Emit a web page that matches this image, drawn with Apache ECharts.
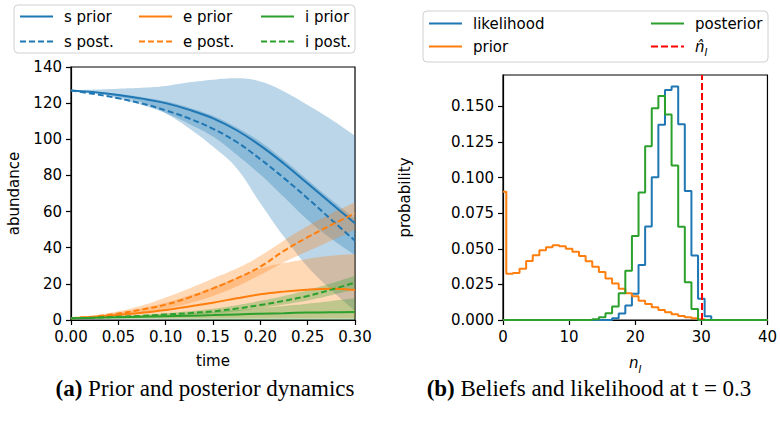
<!DOCTYPE html>
<html><head><meta charset="utf-8">
<script src="https://cdn.jsdelivr.net/npm/echarts@6/dist/echarts.min.js"></script>
<style>html,body{margin:0;padding:0;background:#fff}#c{width:780px;height:428px}</style>
</head><body><div id="c"></div>
<script>
// ---------- (a) dynamics ----------
const times = [0, 0.025, 0.05, 0.075, 0.1, 0.125, 0.15, 0.175, 0.2, 0.225, 0.25, 0.275, 0.3];
const timeTicks = [0, 0.05, 0.1, 0.15, 0.2, 0.25, 0.3];
const abundTicks = [0, 20, 40, 60, 80, 100, 120, 140];

const sPriorMean = [127, 126, 124.5, 122.5, 120, 116.3, 111.6, 105, 96.5, 86.5, 75.5, 64.5, 53.5];
const sPriorLo   = [127, 125.8, 123.5, 120.5, 114.4, 106, 96, 84, 64.6, 46, 29.5, 16.6, 5];
const sPriorHi   = [127, 127.5, 128, 128.5, 129.5, 131.5, 133, 133.8, 132, 126.5, 119, 111, 102];
const sPostMean  = [127, 125, 122.7, 119.8, 116, 111.5, 105.8, 98.5, 89, 78.5, 67.3, 55.5, 43.9];
const sPostLo    = [127, 125.8, 122.5, 119, 114.5, 108.5, 101.5, 91.5, 80.5, 68, 55.4, 45, 36];
const sPostHi    = [127, 126.3, 125, 123.3, 121, 117.5, 113, 106.5, 98.7, 88.5, 77.5, 66.5, 56];

const ePriorMean = [1, 1.8, 2.8, 4, 5.5, 7.5, 9.6, 12, 14.2, 15.7, 16.8, 17.3, 16.6];
const ePriorLo   = [1, 1, 1, 1, 1, 1, 1, 1, 1, 1, 1, 1, 1];
const ePriorHi   = [1, 2.2, 4, 6.5, 9.5, 13.5, 18, 23.5, 28.5, 31.5, 33.8, 35.5, 36.5];
const ePostMean  = [1, 2, 3.6, 5.8, 8.5, 12.5, 17.5, 23, 29.5, 38.3, 45.8, 52.6, 59];
const ePostLo    = [1, 1.6, 2.7, 4.3, 6.3, 9.3, 13.3, 18.5, 25, 32, 38, 44, 50];
const ePostHi    = [1, 2.5, 4.8, 8, 12.5, 17.5, 23, 28.5, 35.5, 44, 52, 59, 65];

const iPriorMean = [1, 1.2, 1.5, 1.8, 2.1, 2.4, 2.7, 3.1, 3.5, 3.8, 4.1, 4.3, 4.4];
const iPriorLo   = [1, 0.8, 0.6, 0.5, 0.4, 0.3, 0.2, 0.2, 0.1, 0.1, 0.1, 0.1, 0.1];
const iPriorHi   = [1, 1.4, 1.9, 2.4, 2.9, 3.6, 4.5, 5.5, 6.6, 7.8, 9, 10.5, 12];
const iPostMean  = [1, 1.3, 1.8, 2.3, 3, 3.8, 4.8, 6.3, 8.3, 10.6, 13.3, 16.8, 20.7];
const iPostLo    = [1, 1.2, 1.5, 1.9, 2.4, 3, 3.7, 4.9, 6.6, 8.6, 10.8, 13.7, 17];
const iPostHi    = [1, 1.5, 2.2, 2.8, 3.7, 4.8, 6.2, 8.2, 10.6, 13.3, 16.5, 20.3, 24.5];

// ---------- (b) beliefs ----------
const binCenters = [0,1,2,3,4,5,6,7,8,9,10,11,12,13,14,15,16,17,18,19,20,21,22,23,24,25,26,27,28,29,30,31,32,33,34,35,36,37,38,39,40];
const likelihoodP = [0,0,0,0,0,0,0,0,0,0,0,0,0,0,0,0,0,0.0012,0.0046,0.0102,0.0185,0.0386,0.0657,0.1003,0.137,0.1615,0.164,0.1375,0.0906,0.0452,0.015,0.0027,0,0,0,0,0,0,0,0,0];
const priorP = [0.09,0.0325,0.033,0.036,0.0414,0.0455,0.049,0.051,0.0525,0.0518,0.05,0.048,0.045,0.0412,0.0374,0.0337,0.0292,0.0256,0.0219,0.0188,0.0167,0.0136,0.0112,0.0089,0.007,0.0054,0.004,0.0028,0.0019,0.0012,0.0005,0,0,0,0,0,0,0,0,0,0];
const posteriorP = [0,0,0,0,0,0,0,0,0,0,0,0,0,0,0.0005,0.0019,0.0048,0.0094,0.0187,0.0346,0.059,0.0895,0.122,0.1487,0.1572,0.1443,0.1085,0.0655,0.0265,0.0078,0,0,0,0,0,0,0,0,0,0,0];
const nHat = [30];
const nTicks = [0, 10, 20, 30, 40];
const probTicks = [0, 0.025, 0.05, 0.075, 0.1, 0.125, 0.15];

const BLUE = '#1f77b4', ORANGE = '#ff7f0e', GREEN = '#2ca02c', RED = '#ff0000';
const FONT = 'DejaVu Sans';

function pairs(xs, ys) { return xs.map((x, i) => [x, ys[i]]); }

// bands are stacked on a hidden category axis laid over the same grid (evenly spaced times)
function band(lo, hi, color, key) {
  return [
    { type: 'line', stack: key, data: lo.slice(), symbol: 'none', smooth: 0.4, silent: true,
      lineStyle: { opacity: 0 }, xAxisIndex: 2, yAxisIndex: 0 },
    { type: 'line', stack: key, data: hi.map((v, i) => v - lo[i]), symbol: 'none', smooth: 0.4, silent: true,
      lineStyle: { opacity: 0 }, areaStyle: { color: color, opacity: 0.3 }, xAxisIndex: 2, yAxisIndex: 0 }
  ];
}
function meanLine(name, ys, color, dashed) {
  return { name: name, type: 'line', data: pairs(times, ys), symbol: 'none', smooth: 0.4,
    lineStyle: { color: color, width: 2, type: dashed ? [6, 3] : 'solid' }, itemStyle: { color: color },
    xAxisIndex: 0, yAxisIndex: 0, z: 3 };
}
function histLine(name, ys, color) {
  return { name: name, type: 'line', step: 'middle', data: pairs(binCenters, ys), symbol: 'none',
    lineStyle: { color: color, width: 2 }, itemStyle: { color: color }, xAxisIndex: 1, yAxisIndex: 1 };
}

const series = [].concat(
  band(sPriorLo, sPriorHi, BLUE, 'sPr'), band(sPostLo, sPostHi, BLUE, 'sPo'),
  band(ePriorLo, ePriorHi, ORANGE, 'ePr'), band(ePostLo, ePostHi, ORANGE, 'ePo'),
  band(iPriorLo, iPriorHi, GREEN, 'iPr'), band(iPostLo, iPostHi, GREEN, 'iPo'),
  [meanLine('s prior', sPriorMean, BLUE, false), meanLine('s post.', sPostMean, BLUE, true),
   meanLine('e prior', ePriorMean, ORANGE, false), meanLine('e post.', ePostMean, ORANGE, true),
   meanLine('i prior', iPriorMean, GREEN, false), meanLine('i post.', iPostMean, GREEN, true)],
  [histLine('likelihood', likelihoodP, BLUE), histLine('prior', priorP, ORANGE), histLine('posterior', posteriorP, GREEN),
   { name: 'nhat', type: 'line', data: [], symbol: 'none', xAxisIndex: 1, yAxisIndex: 1,
     lineStyle: { color: RED, width: 2, type: [7, 3] }, itemStyle: { color: RED },
     markLine: { silent: true, symbol: ['none', 'none'], label: { show: false },
       lineStyle: { color: RED, width: 2, type: [7, 3] }, data: nHat.map(v => ({ xAxis: v })) } }]
);

const txt = { fontFamily: FONT, fontSize: 15, color: '#000' };
const richN = {
  it: { fontFamily: FONT, fontStyle: 'italic', fontSize: 15, color: '#000' },
  sub: { fontFamily: FONT, fontStyle: 'italic', fontSize: 10, color: '#000', verticalAlign: 'bottom', lineHeight: 22 }
};
function legendCol(names, left, top, gap) {
  return { data: names, orient: 'vertical', left: left, top: top, itemGap: gap, itemWidth: 33, itemHeight: 14,
    padding: 0, selectedMode: false,
    itemStyle: { opacity: 0, borderWidth: 0 },
    formatter: n => n === 'nhat' ? '{it|n\u0302}{sub|I}' : n,
    textStyle: Object.assign({ padding: [0, 0, 0, 6], rich: richN }, txt) };
}
const axisCommon = {
  axisLine: { show: true, onZero: false, lineStyle: { color: '#000', width: 1.2 } },
  axisTick: { show: true, inside: false, length: 5, lineStyle: { color: '#000', width: 1.2 } },
  splitLine: { show: false }
};

const chart = echarts.init(document.getElementById('c'), null, { renderer: 'svg' });
chart.setOption({
  animation: false,
  backgroundColor: '#fff',
  grid: [
    { left: 71, top: 67, width: 284, height: 253, show: true, borderColor: '#000', borderWidth: 1.2, backgroundColor: 'transparent' },
    { left: 503, top: 75, width: 265, height: 245, show: true, borderColor: '#000', borderWidth: 1.2, backgroundColor: 'transparent' }
  ],
  xAxis: [
    Object.assign({ type: 'value', gridIndex: 0, min: 0, max: 0.3, interval: 0.05,
      axisLabel: Object.assign({ margin: 9, customValues: timeTicks, formatter: v => v.toFixed(2) }, txt),
      name: 'time', nameLocation: 'middle', nameGap: 33, nameTextStyle: txt }, axisCommon),
    Object.assign({ type: 'value', gridIndex: 1, min: 0, max: 40, interval: 10,
      axisLabel: Object.assign({ margin: 9, customValues: nTicks }, txt),
      name: '{it|n}{sub|I}', nameLocation: 'middle', nameGap: 32, nameTextStyle: Object.assign({ rich: richN }, txt) }, axisCommon),
    { type: 'category', gridIndex: 0, data: times.map(String), boundaryGap: false, show: false }
  ],
  yAxis: [
    Object.assign({ type: 'value', gridIndex: 0, min: 0, max: 140, interval: 20,
      axisLabel: Object.assign({ margin: 9, customValues: abundTicks }, txt),
      name: 'abundance', nameLocation: 'middle', nameRotate: 90, nameGap: 50, nameTextStyle: txt }, axisCommon),
    Object.assign({ type: 'value', gridIndex: 1, min: 0, max: 0.172,
      axisLabel: Object.assign({ margin: 9, customValues: probTicks, formatter: v => v.toFixed(3) }, txt),
      name: 'probability', nameLocation: 'middle', nameRotate: 90, nameGap: 91, nameTextStyle: txt },
      axisCommon, { axisTick: Object.assign({}, axisCommon.axisTick, { customValues: probTicks }) })
  ],
  legend: [
    legendCol(['s prior', 's post.'], 19, 9, 10),
    legendCol(['e prior', 'e post.'], 138, 9, 10),
    legendCol(['i prior', 'i post.'], 260, 9, 10),
    legendCol(['likelihood', 'prior'], 428, 16, 8),
    legendCol(['posterior', 'nhat'], 650, 16, 8)
  ],
  graphic: [
    { type: 'rect', z: -1, shape: { x: 14, y: 5, width: 341, height: 48, r: 4 },
      style: { fill: 'rgba(255,255,255,0.8)', stroke: '#d0d0d0', lineWidth: 1 } },
    { type: 'rect', z: -1, shape: { x: 423, y: 11, width: 345, height: 51, r: 4 },
      style: { fill: 'rgba(255,255,255,0.8)', stroke: '#d0d0d0', lineWidth: 1 } },
    { type: 'text', x: 205, y: 388, style: { text: '{b|(a)} Prior and posterior dynamics', fill: '#000',
      font: '23px "Liberation Serif"', align: 'center', verticalAlign: 'middle',
      rich: { b: { fontWeight: 'bold', fontSize: 23, fontFamily: 'Liberation Serif' } } } },
    { type: 'text', x: 589, y: 388, style: { text: '{b|(b)} Beliefs and likelihood at t = 0.3', fill: '#000',
      font: '23px "Liberation Serif"', align: 'center', verticalAlign: 'middle',
      rich: { b: { fontWeight: 'bold', fontSize: 23, fontFamily: 'Liberation Serif' } } } }
  ],
  series: series
});
</script></body></html>
